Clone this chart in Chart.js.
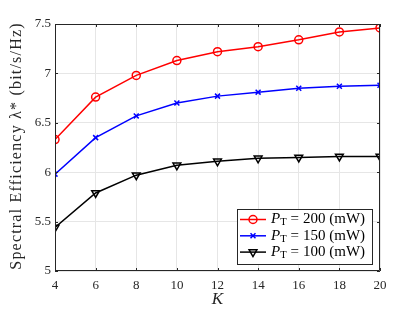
<!DOCTYPE html>
<html>
<head>
<meta charset="utf-8">
<script src="https://cdn.jsdelivr.net/npm/chart.js@4.4.1/dist/chart.umd.min.js"></script>
<style>
  html, body { margin: 0; padding: 0; background: #fff; }
  #wrap { width: 420px; height: 315px; position: relative; }
</style>
</head>
<body>
<div id="wrap"><canvas id="chart"></canvas></div>
<script>
// Data
const users = [4, 6, 8, 10, 12, 14, 16, 18, 20];
const se200 = [6.33, 6.76, 6.98, 7.13, 7.22, 7.27, 7.34, 7.42, 7.46];
const se150 = [5.98, 6.35, 6.57, 6.70, 6.77, 6.81, 6.85, 6.87, 6.88];
const se100 = [5.44, 5.79, 5.97, 6.07, 6.11, 6.14, 6.15, 6.16, 6.16];
const powerLabels = ['200', '150', '100'];
const xTicks = [4, 6, 8, 10, 12, 14, 16, 18, 20];
const yTicks = [5, 5.5, 6, 6.5, 7, 7.5];

const SERIF = '"Liberation Serif", "DejaVu Serif", serif';
const AXIS_COLOR = '#262626';

function toPoints(values) {
    return users.map((k, i) => ({ x: k, y: values[i] }));
}

// Box, inward ticks, axis labels and the legend (MATLAB look)
const matlabFrame = {
    id: 'matlabFrame',
    afterDatasetsDraw(chart) {
        const ctx = chart.ctx;
        const a = chart.chartArea;
        const xs = chart.scales.x;
        const ys = chart.scales.y;
        ctx.save();
        ctx.strokeStyle = AXIS_COLOR;
        ctx.lineWidth = 1;
        ctx.beginPath();
        ctx.rect(a.left + 0.5, a.top + 0.5, a.right - a.left - 1, a.bottom - a.top - 1);
        ctx.stroke();

        // inward ticks on all four sides
        const len = 3;
        ctx.beginPath();
        xTicks.forEach(v => {
            const px = Math.round(xs.getPixelForValue(v)) + 0.5;
            ctx.moveTo(px, a.bottom); ctx.lineTo(px, a.bottom - len);
            ctx.moveTo(px, a.top); ctx.lineTo(px, a.top + len);
        });
        yTicks.forEach(v => {
            const py = Math.round(ys.getPixelForValue(v)) + 0.5;
            ctx.moveTo(a.left, py); ctx.lineTo(a.left + len, py);
            ctx.moveTo(a.right, py); ctx.lineTo(a.right - len, py);
        });
        ctx.stroke();
        ctx.restore();
    },
    afterDraw(chart) {
        const ctx = chart.ctx;
        const a = chart.chartArea;
        ctx.save();

        // y axis label
        ctx.fillStyle = AXIS_COLOR;
        ctx.font = '16px ' + SERIF;
        ctx.letterSpacing = '1.2px';
        ctx.textAlign = 'center';
        ctx.textBaseline = 'middle';
        ctx.translate(17, 146);
        ctx.rotate(-Math.PI / 2);
        ctx.fillText('Spectral Efficiency \u03bb* (bit/s/Hz)', 0, 0);
        ctx.setTransform(1, 0, 0, 1, 0, 0);
        ctx.letterSpacing = '0px';

        // x axis label
        ctx.font = 'italic 17px ' + SERIF;
        ctx.fillText('K', (a.left + a.right) / 2, 300);

        // legend
        const box = { x: 237, y: 209, w: 135, h: 55 };
        ctx.fillStyle = '#fff';
        ctx.fillRect(box.x, box.y, box.w, box.h);
        ctx.strokeStyle = AXIS_COLOR;
        ctx.lineWidth = 1;
        ctx.strokeRect(box.x + 0.5, box.y + 0.5, box.w, box.h);

        chart.data.datasets.forEach((ds, i) => {
            const cy = box.y + 10.5 + i * 16.3;
            ctx.strokeStyle = ds.borderColor;
            ctx.lineWidth = 1.5;
            ctx.beginPath();
            ctx.moveTo(box.x + 3, cy);
            ctx.lineTo(box.x + 29, cy);
            ctx.stroke();
            ctx.fillStyle = 'rgba(0,0,0,0)';
            Chart.helpers.drawPoint(ctx, {
                pointStyle: ds.pointStyle,
                radius: ds.pointRadius,
                rotation: ds.pointRotation || 0,
                borderWidth: ds.pointBorderWidth
            }, box.x + 16, cy);

            // P_T = xxx (mW)
            ctx.fillStyle = '#000';
            ctx.textAlign = 'left';
            ctx.textBaseline = 'middle';
            let tx = box.x + 34;
            ctx.font = 'italic 15px ' + SERIF;
            ctx.fillText('P', tx, cy);
            tx += ctx.measureText('P').width;
            ctx.font = '10.5px ' + SERIF;
            ctx.fillText('T', tx, cy + 3);
            tx += ctx.measureText('T').width + 4;
            ctx.font = '15px ' + SERIF;
            ctx.fillText('=', tx, cy);
            tx += ctx.measureText('=').width + 4;
            ctx.fillText(powerLabels[i] + ' (mW)', tx, cy);
        });
        ctx.restore();
    }
};

function seriesStyle(label, values, color, style, radius, rotation) {
    return {
        label: label,
        data: toPoints(values),
        borderColor: color,
        backgroundColor: 'rgba(0,0,0,0)',
        borderWidth: 1.5,
        pointStyle: style,
        pointRadius: radius,
        pointRotation: rotation,
        pointBorderColor: color,
        pointBackgroundColor: 'rgba(0,0,0,0)',
        pointBorderWidth: 1.5,
        tension: 0
    };
}

const ctx = document.getElementById('chart').getContext('2d');
new Chart(ctx, {
    type: 'line',
    data: {
        datasets: [
            seriesStyle('P_T = 200 (mW)', se200, '#ff0000', 'circle', 4, 0),
            seriesStyle('P_T = 150 (mW)', se150, '#0000ff', 'crossRot', 3.5, 0),
            seriesStyle('P_T = 100 (mW)', se100, '#000000', 'triangle', 4.5, 180)
        ]
    },
    options: {
        responsive: true,
        maintainAspectRatio: false,
        animation: false,
        layout: { padding: { left: 0, right: 40, top: 24, bottom: 0 } },
        plugins: {
            legend: { display: false },
            tooltip: { enabled: false }
        },
        scales: {
            x: {
                type: 'linear',
                min: 4,
                max: 20,
                afterBuildTicks: scale => { scale.ticks = xTicks.map(v => ({ value: v })); },
                afterFit: scale => { scale.height = 44; },
                grid: { color: '#e6e6e6', drawTicks: false },
                border: { display: false },
                ticks: {
                    padding: 7,
                    color: AXIS_COLOR,
                    font: { family: SERIF, size: 13 },
                    callback: v => String(v)
                }
            },
            y: {
                type: 'linear',
                min: 5,
                max: 7.5,
                afterBuildTicks: scale => { scale.ticks = yTicks.map(v => ({ value: v })); },
                afterFit: scale => { scale.width = 55; },
                grid: { color: '#e6e6e6', drawTicks: false },
                border: { display: false },
                ticks: {
                    padding: 4,
                    color: AXIS_COLOR,
                    font: { family: SERIF, size: 13 },
                    callback: v => String(v)
                }
            }
        }
    },
    plugins: [matlabFrame]
});
</script>
</body>
</html>
